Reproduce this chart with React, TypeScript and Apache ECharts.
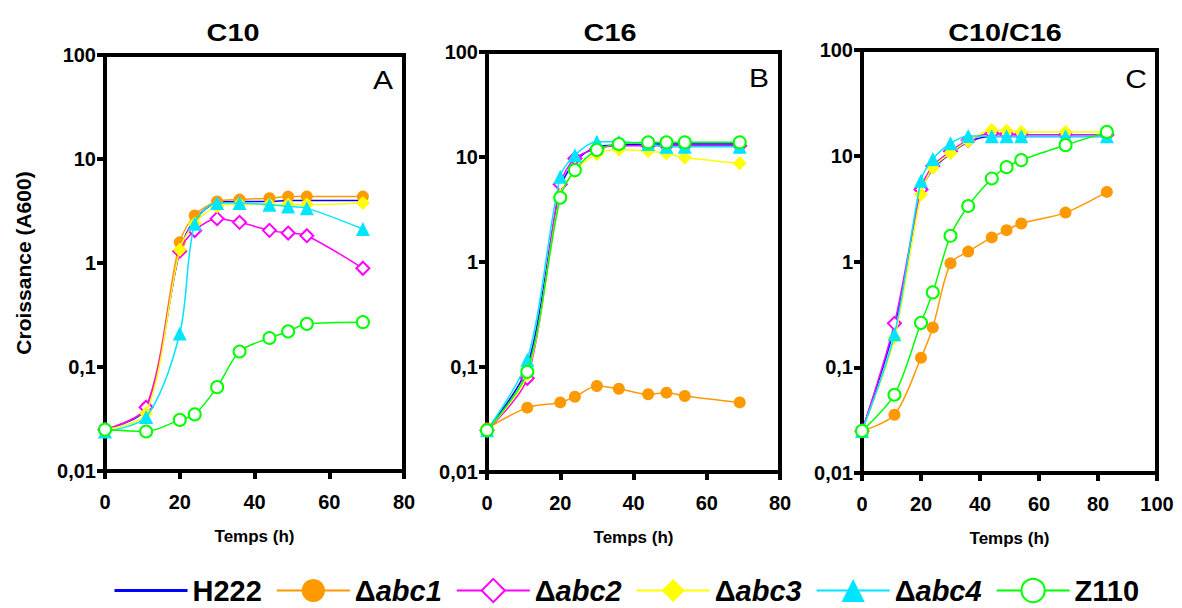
import { useEffect, useRef } from 'react';
import * as echarts from 'echarts';

const FONT = "'Liberation Sans', Arial, Helvetica, sans-serif";

// ---- data ----
const seriesNames = ['H222', 'Δabc1', 'Δabc2', 'Δabc3', 'Δabc4', 'Z110'];
const panelTitles = ['C10', 'C16', 'C10/C16'];
const panelLetters = ['A', 'B', 'C'];
const xMax = [80, 80, 100];
const yTickLabels: Record<string, string> = { '0.01': '0,01', '0.1': '0,1', '1': '1', '10': '10', '100': '100' };

const timesA = [0, 11, 20, 24, 30, 36, 44, 49, 54, 69];
const A_H222 = [0.025, 0.04, 1.3, 2.6, 3.8, 3.9, 3.9, 4.0, 4.0, 4.0];
const A_abc1 = [0.025, 0.041, 1.58, 2.87, 3.9, 4.07, 4.2, 4.35, 4.35, 4.35];
const A_abc2 = [0.025, 0.041, 1.3, 2.05, 2.67, 2.46, 2.06, 1.94, 1.83, 0.89];
const A_abc3 = [0.025, 0.036, 1.34, 2.4, 3.5, 3.7, 3.65, 3.65, 3.65, 3.78];
const A_abc4 = [0.024, 0.033, 0.21, 2.38, 3.78, 3.78, 3.63, 3.5, 3.37, 2.12];
const A_Z110 = [0.025, 0.024, 0.031, 0.035, 0.064, 0.141, 0.19, 0.22, 0.26, 0.27];

const timesB = [0, 11, 20, 24, 30, 36, 44, 49, 54, 69];
const B_H222 = [0.025, 0.1, 5.0, 9.0, 12.5, 13.0, 13.3, 13.3, 13.3, 13.3];
const B_abc1 = [0.026, 0.041, 0.046, 0.052, 0.066, 0.062, 0.055, 0.057, 0.053, 0.046];
const B_abc2 = [0.025, 0.078, 5.5, 9.7, 12.0, 12.8, 12.8, 12.8, 12.8, 12.8];
const B_abc3 = [0.025, 0.085, 4.3, 7.3, 10.7, 11.8, 11.4, 10.8, 9.9, 8.7];
const B_abc4 = [0.025, 0.117, 6.5, 10.4, 14.0, 14.0, 13.3, 12.5, 12.5, 12.5];
const B_Z110 = [0.025, 0.09, 4.1, 7.5, 11.7, 13.3, 13.8, 13.8, 13.8, 13.8];

const timesC = [0, 11, 20, 24, 30, 36, 44, 49, 54, 69, 83];
const C_H222 = [0.025, 0.24, 4.5, 7.5, 10.5, 13.5, 15.2, 15.2, 15.2, 15.2, 15.2];
const C_abc1 = [0.025, 0.0355, 0.123, 0.238, 0.96, 1.24, 1.69, 1.98, 2.29, 2.9, 4.55];
const C_abc2 = [0.025, 0.26, 4.8, 8.0, 11.0, 14.0, 16.3, 16.0, 15.8, 15.8, 15.8];
const C_abc3 = [0.025, 0.19, 4.3, 7.7, 10.6, 13.8, 17.5, 17.2, 16.8, 16.8, 16.8];
const C_abc4 = [0.025, 0.205, 5.8, 9.3, 13.1, 15.4, 15.3, 15.3, 15.3, 15.3, 15.3];
const C_Z110 = [0.025, 0.055, 0.263, 0.51, 1.75, 3.35, 6.1, 7.8, 9.1, 12.6, 16.8];

const panelTimes = [timesA, timesB, timesC];
const panelValues = [
  [A_H222, A_abc1, A_abc2, A_abc3, A_abc4, A_Z110],
  [B_H222, B_abc1, B_abc2, B_abc3, B_abc4, B_Z110],
  [C_H222, C_abc1, C_abc2, C_abc3, C_abc4, C_Z110],
];

// ---- styles ----
const seriesStyle = [
  { color: '#0000ff', symbol: 'none', size: 0, empty: false },
  { color: '#ff9900', symbol: 'circle', size: 12, empty: false },
  { color: '#ff00ff', symbol: 'emptyDiamond', size: 13, empty: true },
  { color: '#ffff00', symbol: 'diamond', size: 14, empty: false },
  { color: '#00e5ff', symbol: 'triangle', size: 14, empty: false },
  { color: '#00ff00', symbol: 'emptyCircle', size: 12, empty: true },
];
const grids = [
  { left: 105, top: 55, width: 299, height: 416 },
  { left: 487, top: 52, width: 293, height: 420 },
  { left: 862, top: 50, width: 295, height: 423 },
];
const titlePos = [
  [233, 33],
  [610, 33],
  [1005, 33],
];
const letterPos = [
  [383, 80],
  [759, 78],
  [1136, 79],
];

export default function App() {
  const ref = useRef<HTMLDivElement>(null);
  useEffect(() => {
    if (!ref.current) return;
    const chart = echarts.init(ref.current, undefined, { renderer: 'svg' });

    const series: any[] = [];
    panelValues.forEach((vals, p) => {
      vals.forEach((v, s) => {
        const st = seriesStyle[s];
        series.push({
          type: 'line',
          name: seriesNames[s],
          xAxisIndex: p,
          yAxisIndex: p,
          data: panelTimes[p].map((t, i) => [t, v[i]]),
          smooth: 0.3,
          symbol: st.symbol,
          symbolSize: st.size,
          showSymbol: st.symbol !== 'none',
          clip: false,
          z: 2 + s,
          lineStyle: { color: st.color, width: 1.5 },
          itemStyle: {
            color: st.color,
            borderColor: st.color,
            borderWidth: st.empty ? 1.5 : 0,
          },
          emphasis: { disabled: true },
        });
      });
    });

    const axisCommon = {
      axisLine: { show: true, onZero: false, lineStyle: { color: '#000', width: 4 } },
      axisTick: { show: true, inside: false, length: 8, lineStyle: { color: '#000', width: 4 } },
      splitLine: { show: false },
    };

    const option: any = {
      animation: false,
      backgroundColor: '#fff',
      grid: grids.map((g) => ({ ...g, show: true, borderColor: '#000', borderWidth: 4, backgroundColor: 'transparent', containLabel: false })),
      xAxis: grids.map((_, p) => ({
        type: 'value',
        gridIndex: p,
        min: 0,
        max: xMax[p],
        interval: 20,
        ...axisCommon,
        axisLabel: { color: '#000', fontSize: 20, fontWeight: 'bold', fontFamily: FONT, margin: 21 },
        name: 'Temps (h)',
        nameLocation: 'middle',
        nameGap: 57,
        nameTextStyle: { color: '#000', fontSize: 17, fontWeight: 'bold', fontFamily: FONT },
      })),
      yAxis: grids.map((_, p) => ({
        type: 'log',
        logBase: 10,
        gridIndex: p,
        min: 0.01,
        max: 100,
        ...axisCommon,
        axisLabel: {
          color: '#000',
          fontSize: 20,
          fontWeight: 'bold',
          fontFamily: FONT,
          margin: 9,
          formatter: (v: number) => yTickLabels[String(v)] ?? String(v).replace('.', ','),
        },
        name: p === 0 ? 'Croissance (A600)' : '',
        nameLocation: 'middle',
        nameGap: 71,
        nameTextStyle: { color: '#000', fontSize: 21, fontWeight: 'bold', fontFamily: FONT },
      })),
      legend: {
        left: 113,
        top: 576,
        itemWidth: 73,
        itemHeight: 29,
        itemGap: 14,
        padding: 0,
        selectedMode: false,
        data: seriesNames.map((n, i) =>
          i === 0
            ? { name: n, itemStyle: { opacity: 0 }, lineStyle: { width: 3 } }
            : { name: n, lineStyle: { width: 2 } }
        ),
        formatter: (name: string) =>
          name.startsWith('Δ') ? `{d|Δ}{i|${name.slice(1)}}` : `{n|${name}}`,
        textStyle: {
          color: '#000',
          fontSize: 29,
          lineHeight: 29,
          fontWeight: 'bold',
          fontFamily: FONT,
          rich: {
            n: { fontSize: 29, lineHeight: 29, fontWeight: 'bold', fontFamily: FONT, color: '#000' },
            d: { fontSize: 29, lineHeight: 29, fontWeight: 'bold', fontFamily: FONT, color: '#000' },
            i: { fontSize: 29, lineHeight: 29, fontWeight: 'bold', fontStyle: 'italic', fontFamily: FONT, color: '#000' },
          },
        },
      },
      graphic: [
        ...panelTitles.map((t, p) => ({
          type: 'text',
          x: titlePos[p][0],
          y: titlePos[p][1],
          scaleX: 1.2,
          style: { text: t, fontSize: 24, fontWeight: 'bold', fontFamily: FONT, fill: '#000', align: 'center', verticalAlign: 'middle' },
        })),
        ...panelLetters.map((t, p) => ({
          type: 'text',
          x: letterPos[p][0],
          y: letterPos[p][1],
          scaleX: 1.2,
          style: { text: t, fontSize: 25, fontFamily: FONT, fill: '#000', align: 'center', verticalAlign: 'middle' },
        })),
      ],
      series,
    };

    chart.setOption(option);
    return () => chart.dispose();
  }, []);

  return <div ref={ref} style={{ position: 'absolute', left: 0, top: 0, width: 1182, height: 608 }} />;
}
